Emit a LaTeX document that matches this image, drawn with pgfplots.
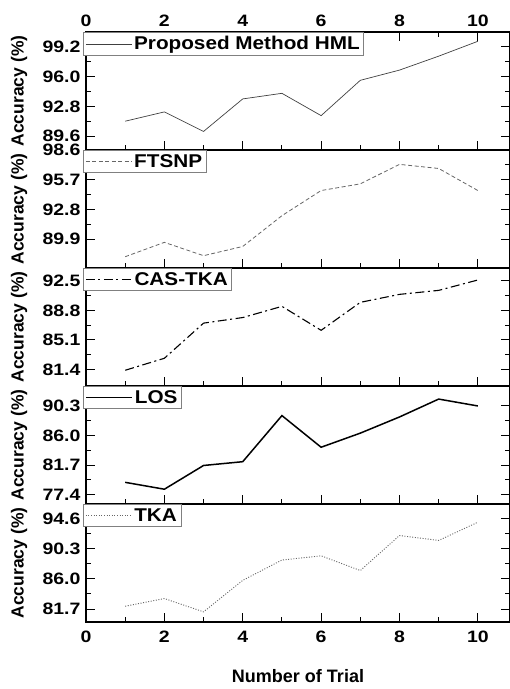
\documentclass[border=0pt]{standalone}
\usepackage{fontspec}
\setmainfont{Liberation Sans}
\newfontfamily\stretched{Liberation Sans}[FakeStretch=1.12]
\newfontfamily\tickfont{Liberation Sans}[FakeStretch=1.18]
\usepackage{pgfplots}
\pgfplotsset{compat=1.18}
\begin{document}
\begin{tikzpicture}
\useasboundingbox (-86pt,32pt) rectangle (424pt,-657pt);
\pgfplotsset{
  panel/.style={
    scale only axis, width=424pt, height=118pt,
    xmin=0, xmax=10.82,
    xtick={0,2,4,6,8,10}, minor xtick={1,3,5,7,9},
    tick align=inside, major tick length=9pt, minor tick length=5pt,
    xtick pos=bottom, ytick pos=both, xticklabels={},
    minor y tick num=1,
    axis line style={line width=1.2pt},
    every tick/.style={line width=1pt, black},
    tick label style={font=\tickfont\bfseries\fontsize{16.5}{18}\selectfont, inner ysep=0.5pt},
    /pgf/number format/assume math mode=true,
    yticklabel style={/pgf/number format/fixed, /pgf/number format/fixed zerofill, /pgf/number format/precision=1, xshift=-2pt},
    ylabel={Accuracy (\%)},
    every axis y label/.style={at={(axis description cs:-0.158,0.5)}, rotate=90, anchor=center, font=\bfseries\fontsize{17.5}{19}\selectfont},
    every axis x label/.style={at={(axis description cs:0.5,-0.4576)}, anchor=center, font=\bfseries\fontsize{18}{20}\selectfont},
    legend style={at={(-0.007,1)}, anchor=north west, draw=gray, line width=0.8pt, fill=white,
      font=\stretched\bfseries\fontsize{18.5}{20}\selectfont, inner xsep=2pt, inner ysep=2pt},
    legend cell align=left,
    legend image code/.code={\draw[##1] (0pt,0pt) -- (46pt,0pt);},
  }
}
% Panel 1
\begin{axis}[panel, at={(0pt,0pt)}, anchor=north west,
  ymin=88.1, ymax=100.8, ytick={89.6,92.8,96.0,99.2},
  xtick pos=both, xticklabel pos=upper, xticklabels={0,2,4,6,8,10},
  xticklabel style={yshift=5pt}]
\addplot[color=black!75, line width=0.7pt] coordinates {(1,91.2)(2,92.2)(3,90.1)(4,93.6)(5,94.2)(6,91.8)(7,95.6)(8,96.7)(9,98.2)(10,99.8)};
\addlegendentry{Proposed Method HML}
\end{axis}
% Panel 2
\begin{axis}[panel, at={(0pt,-118pt)}, anchor=north west,
  ymin=87.1, ymax=98.6, ytick={89.9,92.8,95.7,98.6}]
\addplot[color=black!60, line width=0.8pt, dash pattern=on 4pt off 2.5pt] coordinates {(1,88.2)(2,89.6)(3,88.3)(4,89.2)(5,92.2)(6,94.65)(7,95.3)(8,97.2)(9,96.8)(10,94.65)};
\addlegendentry{FTSNP}
\end{axis}
% Panel 3
\begin{axis}[panel, at={(0pt,-236pt)}, anchor=north west,
  ymin=79.33, ymax=94.1, ytick={81.4,85.1,88.8,92.5}]
\addplot[color=black, line width=1.1pt, dash pattern=on 9pt off 3.5pt on 2pt off 3.5pt] coordinates {(1,81.3)(2,82.8)(3,87.2)(4,87.9)(5,89.3)(6,86.3)(7,89.8)(8,90.8)(9,91.3)(10,92.6)};
\addlegendentry{CAS-TKA}
\end{axis}
% Panel 4
\begin{axis}[panel, at={(0pt,-354pt)}, anchor=north west,
  ymin=76.05, ymax=93.2, ytick={77.4,81.7,86.0,90.3}]
\addplot[color=black, line width=1.5pt] coordinates {(1,79.2)(2,78.2)(3,81.65)(4,82.2)(5,88.9)(6,84.3)(7,86.35)(8,88.7)(9,91.3)(10,90.3)};
\addlegendentry{LOS}
\end{axis}
% Panel 5
\begin{axis}[panel, at={(0pt,-472pt)}, anchor=north west,
  ymin=79.85, ymax=96.7, ytick={81.7,86.0,90.3,94.6},
  xticklabels={0,2,4,6,8,10}, xticklabel style={yshift=-8pt},
  xlabel={Number of Trial}]
\addplot[color=black!60, line width=0.9pt, dash pattern=on 1pt off 1.6pt] coordinates {(1,82.1)(2,83.2)(3,81.3)(4,85.8)(5,88.7)(6,89.3)(7,87.2)(8,92.2)(9,91.5)(10,94.1)};
\addlegendentry{TKA}
\end{axis}
\end{tikzpicture}
\end{document}
